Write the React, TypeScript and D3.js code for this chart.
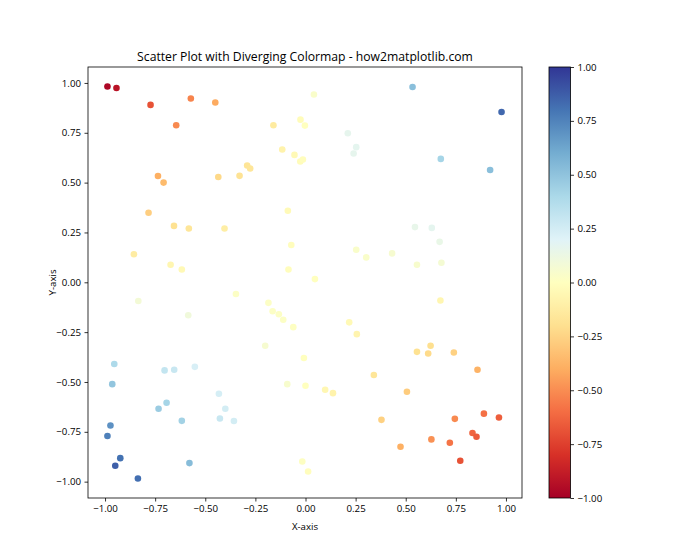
import { useRef, useEffect } from 'react'
import * as d3 from 'd3'

// point positions
const xValues = [
  -0.988, -0.943, -0.773, -0.572, -0.450, -0.645, -0.160, -0.025, -0.003, -0.116,
  -0.055, -0.026, -0.013, -0.736, -0.708, -0.435, -0.329, -0.291, -0.276, -0.783,
  -0.088, -0.656, -0.582, -0.404, -0.856, -0.071, -0.673, -0.617, -0.085, 0.042,
  0.534, 0.978, 0.211, 0.253, 0.240, 0.675, 0.921, 0.546, 0.630, 0.669,
  0.253, 0.303, 0.432, 0.556, 0.678, 0.047, -0.834, -0.347, -0.585, -0.185,
  -0.164, -0.133, -0.111, -0.061, -0.201, -0.008, -0.091, 0.000, -0.954, -0.964,
  -0.703, -0.655, -0.552, -0.432, -0.400, -0.427, -0.357, -0.693, -0.733, -0.617,
  -0.973, -0.988, -0.924, -0.949, -0.836, -0.579, -0.016, 0.013, 0.673, 0.218,
  0.256, 0.556, 0.624, 0.612, 0.740, 0.858, 0.341, 0.098, 0.137, 0.506,
  0.379, 0.745, 0.890, 0.965, 0.833, 0.853, 0.628, 0.720, 0.474, 0.772
]
const yValues = [
  0.982, 0.975, 0.890, 0.922, 0.902, 0.788, 0.788, 0.816, 0.786, 0.666,
  0.639, 0.606, 0.616, 0.533, 0.500, 0.528, 0.534, 0.586, 0.571, 0.349,
  0.359, 0.283, 0.270, 0.270, 0.141, 0.187, 0.088, 0.064, 0.064, 0.942,
  0.980, 0.854, 0.748, 0.678, 0.646, 0.619, 0.563, 0.277, 0.273, 0.203,
  0.163, 0.125, 0.145, 0.088, 0.098, 0.016, -0.094, -0.059, -0.165, -0.103,
  -0.145, -0.160, -0.188, -0.225, -0.318, -0.380, -0.511, -0.519, -0.410, -0.511,
  -0.442, -0.439, -0.424, -0.559, -0.634, -0.683, -0.696, -0.604, -0.634, -0.695,
  -0.718, -0.771, -0.882, -0.920, -0.984, -0.907, -0.899, -0.949, -0.091, -0.201,
  -0.260, -0.349, -0.318, -0.357, -0.352, -0.439, -0.465, -0.539, -0.556, -0.549,
  -0.690, -0.685, -0.659, -0.678, -0.756, -0.775, -0.788, -0.805, -0.825, -0.895
]
// colour value of each point, estimated from its hue
const cValues = [
  -0.97, -0.92, -0.69, -0.53, -0.41, -0.51, -0.13, -0.02, 0.00, -0.08,
  -0.04, -0.02, -0.01, -0.39, -0.35, -0.23, -0.18, -0.17, -0.16, -0.27,
  -0.03, -0.19, -0.16, -0.11, -0.12, -0.01, -0.06, -0.04, -0.01, 0.04,
  0.52, 0.84, 0.16, 0.17, 0.16, 0.42, 0.52, 0.15, 0.17, 0.14,
  0.04, 0.04, 0.06, 0.05, 0.07, 0.00, 0.08, 0.02, 0.10, 0.02,
  0.02, 0.02, 0.02, 0.01, 0.06, 0.00, 0.05, 0.00, 0.39, 0.49,
  0.31, 0.29, 0.23, 0.24, 0.25, 0.29, 0.25, 0.42, 0.46, 0.43,
  0.70, 0.76, 0.81, 0.87, 0.82, 0.53, 0.01, -0.01, -0.06, -0.04,
  -0.07, -0.19, -0.20, -0.22, -0.26, -0.38, -0.16, -0.05, -0.08, -0.28,
  -0.26, -0.51, -0.59, -0.65, -0.63, -0.66, -0.49, -0.58, -0.39, -0.69
]
const axisTicks = [-1, -0.75, -0.5, -0.25, 0, 0.25, 0.5, 0.75, 1]
const colorTicks = [-1, -0.75, -0.5, -0.25, 0, 0.25, 0.5, 0.75, 1]

export default function App() {
  const chartRef = useRef(null)

  useEffect(() => {
    const container = chartRef.current
    if (container === null) return
    container.innerHTML = ''

    const width = 700
    const height = 560
    const font = "'Open Sans', 'Noto Sans', sans-serif"
    const plot = { left: 88, right: 522, top: 67, bottom: 498 }
    const bar = { left: 549, right: 570.5 }

    // body has an 8px margin; pin the svg to the page corner
    const svg = d3.select(container).append('svg')
      .attr('width', width)
      .attr('height', height)
      .style('position', 'absolute')
      .style('left', '0px')
      .style('top', '0px')
      .style('font-family', font)

    svg.append('rect').attr('width', width).attr('height', height).attr('fill', 'white')

    const x = d3.scaleLinear().domain([-1.085, 1.08]).range([plot.left, plot.right])
    const y = d3.scaleLinear().domain([-1.082, 1.08]).range([plot.bottom, plot.top])

    // matplotlib RdYlBu: linear between the 11 brewer colours
    const brewer = d3.schemeRdYlBu[11]
    const color = d3.scaleLinear<string>()
      .domain(d3.range(11).map(i => -1 + i * 0.2))
      .range(brewer)
      .interpolate(d3.interpolateRgb)

    svg.append('g')
      .selectAll('circle')
      .data(xValues.map((d, i) => ({ x: d, y: yValues[i], c: cValues[i] })))
      .join('circle')
      .attr('cx', d => x(d.x))
      .attr('cy', d => y(d.y))
      .attr('r', 3.3)
      .attr('fill', d => color(d.c))

    svg.append('rect')
      .attr('x', plot.left).attr('y', plot.top)
      .attr('width', plot.right - plot.left).attr('height', plot.bottom - plot.top)
      .attr('fill', 'none').attr('stroke', 'black').attr('stroke-width', 0.8)

    const xAxis = svg.append('g')
      .attr('transform', `translate(0,${plot.bottom})`)
      .call(d3.axisBottom(x).tickValues(axisTicks).tickFormat(d3.format('.2f')).tickSizeOuter(0).tickSize(3.5).tickPadding(3.5))
    const yAxis = svg.append('g')
      .attr('transform', `translate(${plot.left},0)`)
      .call(d3.axisLeft(y).tickValues(axisTicks).tickFormat(d3.format('.2f')).tickSizeOuter(0).tickSize(3.5).tickPadding(3.5))
    for (const g of [xAxis, yAxis]) {
      g.select('.domain').remove()
      g.selectAll('text').attr('font-family', font).attr('font-size', 9.7).attr('fill', 'black')
      g.selectAll('line').attr('stroke-width', 0.8)
    }

    svg.append('text')
      .attr('x', (plot.left + plot.right) / 2).attr('y', 61)
      .attr('text-anchor', 'middle').attr('font-size', 12.2)
      .text('Scatter Plot with Diverging Colormap - how2matplotlib.com')
    svg.append('text')
      .attr('x', (plot.left + plot.right) / 2).attr('y', 530)
      .attr('text-anchor', 'middle').attr('font-size', 9.7)
      .text('X-axis')
    svg.append('text')
      .attr('transform', `translate(56,${(plot.top + plot.bottom) / 2}) rotate(-90)`)
      .attr('text-anchor', 'middle').attr('font-size', 9.7)
      .text('Y-axis')

    // colorbar
    const cy = d3.scaleLinear().domain([-1, 1]).range([plot.bottom, plot.top])
    const grad = svg.append('defs').append('linearGradient')
      .attr('id', 'cbar').attr('x1', 0).attr('y1', 1).attr('x2', 0).attr('y2', 0)
    grad.selectAll('stop')
      .data(d3.range(0, 1.0001, 0.05))
      .join('stop')
      .attr('offset', d => d)
      .attr('stop-color', d => color(-1 + 2 * d))
    svg.append('rect')
      .attr('x', bar.left).attr('y', plot.top)
      .attr('width', bar.right - bar.left).attr('height', plot.bottom - plot.top)
      .attr('fill', 'url(#cbar)').attr('stroke', 'black').attr('stroke-width', 0.8)
    const cAxis = svg.append('g')
      .attr('transform', `translate(${bar.right},0)`)
      .call(d3.axisRight(cy).tickValues(colorTicks).tickFormat(d3.format('.2f')).tickSizeOuter(0).tickSize(3.5).tickPadding(3.5))
    cAxis.select('.domain').remove()
    cAxis.selectAll('text').attr('font-family', font).attr('font-size', 9.7).attr('fill', 'black')
    cAxis.selectAll('line').attr('stroke-width', 0.8)
  })

  return (
    <div ref={chartRef}>
    </div>
  )
}
